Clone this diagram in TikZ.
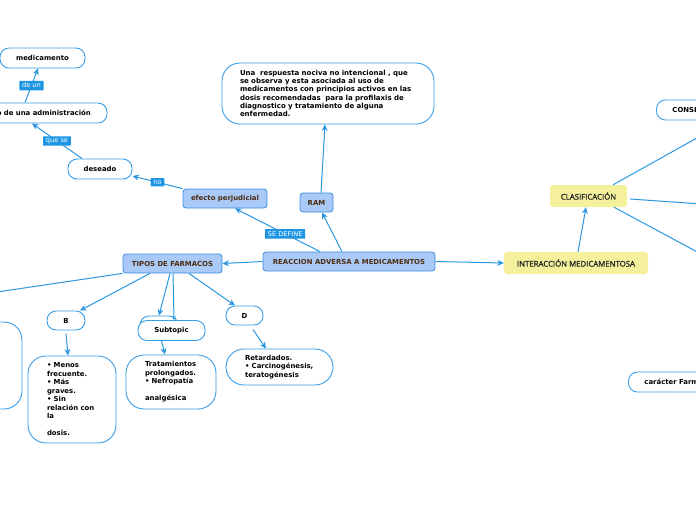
\documentclass[tikz,border=0pt]{standalone}
\usepackage{fontspec}
\setmainfont{DejaVu Sans}
\newfontfamily\intfont[FakeBold=1.3]{Open Sans}
\usetikzlibrary{arrows.meta}
\definecolor{bordc}{HTML}{3A9EE8}
\definecolor{linec}{HTML}{2A97E0}
\definecolor{labc}{HTML}{1F96E3}
\definecolor{mainf}{HTML}{A9C9F7}
\definecolor{mainb}{HTML}{3A8FE0}
\definecolor{yelf}{HTML}{F4F09C}
\definecolor{brownt}{HTML}{4D2C10}
\tikzset{
  bx/.style={draw=bordc, line width=0.9pt, rounded corners=9pt, fill=white, inner sep=0pt,
    font=\bfseries\fontsize{6.9}{9}\selectfont, text=black},
  tbx/.style={draw=bordc, line width=0.9pt, rounded corners=18pt, fill=white, inner ysep=0pt,
    font=\bfseries\fontsize{6.9}{8.5}\selectfont, text=black, align=left},
  mainbx/.style={draw=mainb, line width=0.8pt, rounded corners=3pt, fill=mainf, inner sep=0pt,
    font=\bfseries\fontsize{6.9}{9}\selectfont, text=brownt},
  yelbx/.style={fill=yelf, rounded corners=3pt, inner sep=0pt,
    font=\intfont\fontsize{7.8}{9}\selectfont, text=black!85},
  lab/.style={fill=labc, text=white, inner xsep=2.8pt, inner ysep=2.2pt, rounded corners=0.5pt,
    font=\fontsize{6.6}{8}\selectfont},
  conn/.style={draw=linec, line width=1pt, -{Stealth[length=6.5pt,width=6pt]}},
  plain/.style={draw=linec, line width=1pt},
}
\begin{document}
\begin{tikzpicture}[x=1pt,y=-1pt]
\useasboundingbox (0,0) rectangle (696,520);
\clip (0,0) rectangle (696,520);
\fill[white] (0,0) rectangle (696,520);

% upper left chain
\node[bx, minimum width=85pt, minimum height=20pt] (med) at (42.5,58) {medicamento};
\node[bx, minimum width=127pt, minimum height=20pt] (adm) at (43.5,113) {};
\node[font=\bfseries\fontsize{6.9}{9}\selectfont, anchor=east, inner sep=0pt] (admt) at (91,113) {o de una administración};
\node[bx, minimum width=64pt, minimum height=20pt] (des) at (100,169) {deseado};
\node[mainbx, minimum width=84pt, minimum height=19pt] (efp) at (225,198.5) {efecto perjudicial};
\node[mainbx, minimum width=33pt, minimum height=19pt] (ram) at (316.5,202.5) {RAM};
\node[tbx, inner xsep=18pt, text width=176pt, minimum height=61pt, font=\bfseries\fontsize{7}{8.3}\selectfont] (def) at (328,93.5)
 {Una\ \ respuesta nociva no intencional , que\\se observa y esta asociada al uso de\\medicamentos con principios activos en las\\dosis recomendadas\ \ para la profilaxis de\\diagnostico y tratamiento de alguna\\enfermedad.};
\node[mainbx, minimum width=172pt, minimum height=19pt] (rea) at (349,261.5) {REACCION ADVERSA A MEDICAMENTOS};
\node[mainbx, minimum width=99pt, minimum height=19pt] (tip) at (172.5,263.5) {TIPOS DE FARMACOS};
\node[yelbx, minimum width=144pt, minimum height=22pt] (int) at (576,263) {INTERACCIÓN MEDICAMENTOSA};
\node[yelbx, minimum width=77pt, minimum height=22pt] (cla) at (588.5,196) {CLASIFICACIÓN};

% right clipped nodes
\node[bx, minimum width=90pt, minimum height=20pt, anchor=west, align=left, inner xsep=16pt, text width=80pt] (con) at (656,110) {CONSECUENCIAS};
\node[bx, minimum width=110pt, minimum height=20pt, anchor=west, align=left, inner xsep=16pt, text width=100pt] (car) at (628,382) {carácter Farmacológico};
\coordinate (r1) at (740,114);
\coordinate (r2) at (740,206.7);
\coordinate (r3) at (740,275);
\coordinate (l1) at (-40,297.5);

% lower nodes
\node[bx, minimum width=52pt, minimum height=87pt, rounded corners=18pt] (lft) at (-4,365.5) {};
\node[bx, minimum width=38pt, minimum height=19pt] (bb) at (66,320.5) {B};
\node[bx, minimum width=38pt, minimum height=20pt] (hid) at (159,326) {};
\node[bx, minimum width=67pt, minimum height=20pt] (sub) at (171.5,330.5) {Subtopic};
\node[bx, minimum width=37pt, minimum height=19pt] (dd) at (244.5,315.5) {D};
\node[tbx, inner xsep=19pt, text width=50pt, minimum height=87pt] (bc) at (72,399.5)
 {• Menos\\frecuente.\\• Más\\graves.\\• Sin\\relación con\\la\\[8.5pt]dosis.};
\node[tbx, inner xsep=19pt, text width=52pt, minimum height=54pt] (sc) at (171,382)
 {Tratamientos\\prolongados.\\• Nefropatía\\[8.5pt]analgésica};
\node[tbx, inner xsep=19pt, text width=69pt, minimum height=36pt] (dc) at (279.5,367)
 {Retardados.\\• Carcinogénesis,\\teratogénesis};

% connectors
\draw[conn] ([xshift=-18.5pt]adm.north) -- ([xshift=-4.5pt]med.south) node[lab, pos=0.5] (l_deun) {de un};
\draw[conn] ([xshift=-18pt]des.north) -- ([xshift=-11.5pt]adm.south) node[lab, pos=0.5] (l_quese) {que se};
\draw[conn] (efp.north west) -- ([yshift=-7pt]des.east) node[lab, pos=0.5] (l_no) {no};
\draw[conn] ([xshift=4.5pt]ram.north) -- ([xshift=-3pt]def.south);
\draw[conn] ([xshift=-29pt]rea.north) -- ([xshift=10pt]efp.south) node[lab, pos=0.41] (l_sedef) {SE DEFINE};
\draw[conn] ([xshift=-7pt]rea.north) -- ([xshift=5.5pt]ram.south);
\draw[conn] (rea.west) -- (tip.east);
\draw[conn] (rea.east) -- (int.west);
\draw[conn] ([xshift=2pt]int.north) -- ([xshift=-2.5pt]cla.south);
\draw[plain] ([xshift=24.5pt]cla.north) -- (r1);
\draw[plain] ([xshift=3pt,yshift=-3pt]cla.east) -- (r2);
\draw[plain] ([xshift=25.5pt]cla.south) -- (r3);
\draw[plain] (tip.south west) -- (l1);
\draw[conn] ([xshift=-22.5pt]tip.south) -- ([xshift=14pt]bb.north);
\draw[conn] ([xshift=-2.5pt]tip.south) -- (hid.north);
\draw[draw=linec, line width=1pt, -{Stealth[length=4pt,width=4pt]}] ([xshift=0.5pt]tip.south) -- ([xshift=2.5pt]sub.north);
\draw[conn] ([xshift=16.5pt]tip.south) -- ([xshift=-9.5pt]dd.north);
\draw[conn] ([yshift=-3pt]bb.south) -- ([xshift=-4pt]bc.north);
\draw[conn] ([xshift=-10pt]sub.south) -- ([xshift=-6pt]sc.north);
\draw[conn] ([xshift=8.5pt,yshift=-4pt]dd.south) -- ([xshift=-13.5pt]dc.north);
\end{tikzpicture}
\end{document}
